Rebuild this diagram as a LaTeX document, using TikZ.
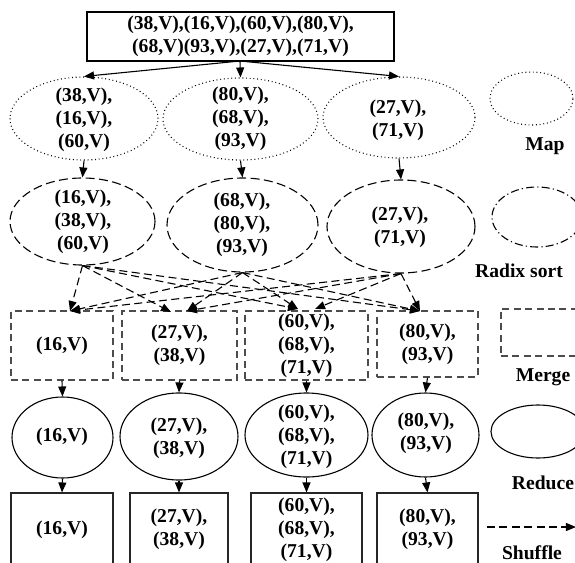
\documentclass[tikz,border=0pt]{standalone}
\usepackage{fontspec}
\setmainfont{Liberation Serif}
\usetikzlibrary{shapes.geometric,arrows.meta}
\begin{document}
\begin{tikzpicture}[x=0.5pt,y=-0.5pt,
  txt/.style={font=\fontsize{9.8}{11.5}\selectfont\bfseries,align=center,inner sep=0pt},
  legendtxt/.style={font=\fontsize{9.8}{11.5}\selectfont\bfseries,inner sep=0pt},
  oval/.style={ellipse,inner sep=0pt,line width=0.55pt},
  mapshape/.style={oval,draw,dash pattern=on 0.45pt off 1.4pt},
  sortshape/.style={oval,draw,dash pattern=on 4.5pt off 2.2pt},
  dotdash/.style={oval,draw,dash pattern=on 4pt off 1.6pt on 0.6pt off 1.6pt},
  redshape/.style={oval,draw},
  mergebox/.style={txt,draw=black!70,line width=0.6pt,dash pattern=on 3.5pt off 2.2pt},
  outbox/.style={txt,draw=black!85,line width=0.55pt},
  arr/.style={-{Triangle[length=5pt,width=4pt]},line width=0.55pt},
  shuf/.style={arr,dash pattern=on 4pt off 2.2pt},
]
\useasboundingbox (0,0) rectangle (575,563);
\clip (0,0) rectangle (575,563);

% input records
\node[txt,draw,line width=0.7pt,minimum width=153.5pt,minimum height=24.5pt] (in) at (240.5,36.5)
  {(38,V),(16,V),(60,V),(80,V),\\(68,V)(93,V),(27,V),(71,V)};
\coordinate (split) at (240,61);

% map tasks
\node[mapshape,minimum width=74pt,minimum height=41.5pt] (m1) at (84,118.5) {};
\node[mapshape,minimum width=77.5pt,minimum height=41pt] (m2) at (240.5,119) {};
\node[mapshape,minimum width=76pt,minimum height=40.5pt] (m3) at (399,117.5) {};
\node[txt] (m1t) at (84,120) {(38,V),\\(16,V),\\(60,V)};
\node[txt] (m2t) at (240.5,118.5) {(80,V),\\(68,V),\\(93,V)};
\node[txt] (m3t) at (398,120) {(27,V),\\(71,V)};

% radix sort
\node[sortshape,minimum width=72.5pt,minimum height=43.5pt] (s1) at (82.5,221.5) {};
\node[sortshape,minimum width=75.5pt,minimum height=47pt] (s2) at (242.5,225) {};
\node[sortshape,minimum width=74pt,minimum height=46.5pt] (s3) at (401,226.5) {};
\node[txt] (s1t) at (83,222) {(16,V),\\(38,V),\\(60,V)};
\node[txt] (s2t) at (242,225) {(68,V),\\(80,V),\\(93,V)};
\node[txt] (s3t) at (400,227) {(27,V),\\(71,V)};

% merge
\node[mergebox,minimum width=51pt,minimum height=34.5pt] (g1) at (62,345.5) {(16,V)};
\node[mergebox,minimum width=57.5pt,minimum height=34.5pt] (g2) at (179.5,345.5) {(27,V),\\(38,V)};
\node[mergebox,minimum width=61.5pt,minimum height=34.5pt] (g3) at (306.5,345.5) {(60,V),\\(68,V),\\(71,V)};
\node[mergebox,minimum width=50.5pt,minimum height=33pt] (g4) at (427.5,344) {(80,V),\\(93,V)};

% reduce
\node[redshape,minimum width=50.5pt,minimum height=40.5pt] (r1) at (62.5,437.5) {};
\node[redshape,minimum width=59pt,minimum height=43.5pt] (r2) at (179,436.5) {};
\node[redshape,minimum width=61.5pt,minimum height=42pt] (r3) at (306.5,435) {};
\node[redshape,minimum width=53.5pt,minimum height=42pt] (r4) at (425.5,435) {};
\node[txt] (r1t) at (62,437) {(16,V)};
\node[txt] (r2t) at (179,438) {(27,V),\\(38,V)};
\node[txt] (r3t) at (306.5,436.5) {(60,V),\\(68,V),\\(71,V)};
\node[txt] (r4t) at (426,433) {(80,V),\\(93,V)};

% output
\node[outbox,minimum width=51pt,minimum height=36.5pt] (b1) at (62,529.5) {(16,V)};
\node[outbox,minimum width=49pt,minimum height=36.5pt] (b2) at (179,529.5) {(27,V),\\(38,V)};
\node[outbox,minimum width=55.5pt,minimum height=36.5pt] (b3) at (306.5,529.5) {(60,V),\\(68,V),\\(71,V)};
\node[outbox,minimum width=50.5pt,minimum height=36.5pt] (b4) at (427.5,529.5) {(80,V),\\(93,V)};

% split into map tasks
\draw[arr] (split) -- (m1.north);
\draw[arr] (split) -- (m2.north);
\draw[arr] (split) -- (m3.north);

% map -> sort
\draw[arr] (m1.south) -- (s1.north);
\draw[arr] (m2.south) -- (s2.north);
\draw[arr] (m3.south) -- (s3.north);

% shuffle targets on the merge boxes
\coordinate (t1) at (70,311);
\coordinate (t2a) at (171,312);
\coordinate (t2b) at (187,311);
\coordinate (t3a) at (298,309);
\coordinate (t3b) at (315,309);
\coordinate (t4) at (420,311);
\foreach \s/\t in {s1/t1,s2/t1,s3/t1,s1/t2a,s2/t2b,s3/t2b,s1/t3a,s2/t3a,s3/t3b,s1/t4,s2/t4,s3/t4}
  \draw[shuf] (\s.south) -- (\t);

% merge -> reduce -> output
\foreach \i in {1,...,4} {
  \draw[arr] (g\i.south) -- (r\i.north);
  \draw[arr] (r\i.south) -- (b\i.north);
}

% legend
\node[mapshape,minimum width=41.5pt,minimum height=26.5pt] (lm) at (531.5,98.5) {};
\node[legendtxt] (lmt) at (545,146) {Map};
\node[dotdash,minimum width=45pt,minimum height=30pt] (ls) at (537,217) {};
\node[legendtxt] (lst) at (519,271) {Radix sort};
\node[draw=black!70,line width=0.6pt,dash pattern=on 3.5pt off 2.2pt,inner sep=0pt,
  minimum width=44.5pt,minimum height=23.5pt] (lg) at (545.5,332.5) {};
\node[legendtxt] (lgt) at (543,377) {Merge};
\node[redshape,minimum width=47pt,minimum height=26.5pt] (lr) at (538,431.5) {};
\node[legendtxt] (lrt) at (543,483) {Reduce};
\coordinate (lsa) at (487,527);
\coordinate (lsb) at (576,527);
\draw[shuf] (lsa) -- (lsb);
\node[legendtxt] (lsht) at (532,553) {Shuffle};
\end{tikzpicture}
\end{document}
